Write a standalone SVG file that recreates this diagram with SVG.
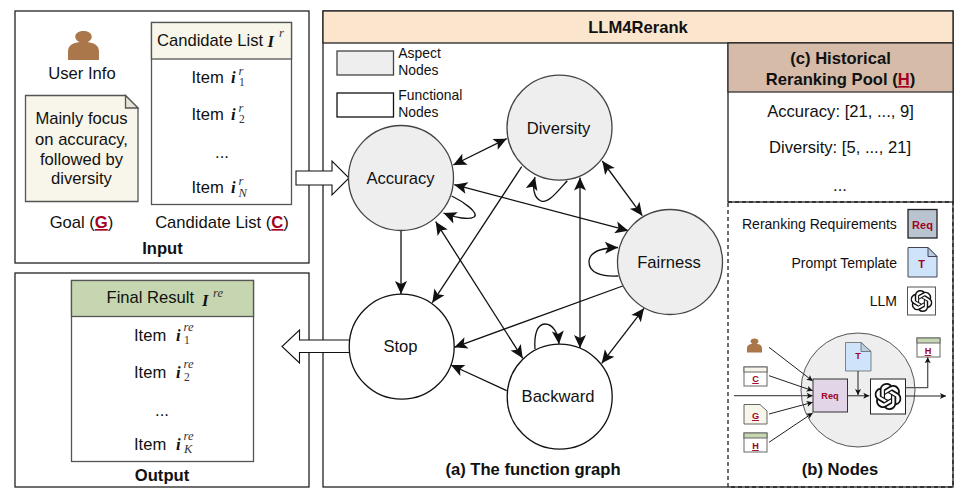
<svg xmlns="http://www.w3.org/2000/svg" width="972" height="496" viewBox="0 0 972 496">
<style>
text{font-family:"Liberation Sans",Arial,sans-serif;font-size:16.6px;fill:#111}
.m{text-anchor:middle}
.e{text-anchor:end}
.b{font-weight:bold}
.r{fill:#a20025;font-weight:bold;text-decoration:underline}
.leg{font-size:13.9px}
.rq{font-size:14px}
.mi{font-family:"Liberation Serif",serif;font-style:italic;font-weight:bold}
.ms{font-family:"Liberation Serif",serif;font-style:italic;font-size:12.5px;fill:#333}
.sb{font-family:"Liberation Serif",serif;font-size:11.5px;fill:#333}
.box{fill:#fff;stroke:#222;stroke-width:1.3}
.gbox{stroke:#555;stroke-width:1.3}
.asp{fill:#eeeeee;stroke:#444;stroke-width:1.3}
.fun{fill:#fff;stroke:#111;stroke-width:1.3}
.c{fill:none;stroke:#111;stroke-width:1.3;marker-end:url(#a)}
.d{marker-start:url(#a)}
.s{fill:none;stroke:#222;stroke-width:1;marker-end:url(#sa)}
.t{font-size:9.2px;font-weight:bold;fill:#a20025;text-anchor:middle}
.u{text-decoration:underline}
.sm{stroke:#666;stroke-width:1}
</style>
<defs>
<marker id="a" markerUnits="userSpaceOnUse" markerWidth="15" markerHeight="15" refX="14" refY="7.5" orient="auto-start-reverse"><path d="M1,1.500 L14,7.500 L1,13.500 L4,7.500 Z" fill="#111"/></marker>
<marker id="sa" markerUnits="userSpaceOnUse" markerWidth="7" markerHeight="7" refX="6.500" refY="3.500" orient="auto-start-reverse"><path d="M0.500,0.500 L6.500,3.500 L0.500,6.500 L2,3.500 Z" fill="#111"/></marker>
<symbol id="gpt" viewBox="0 0 24 24"><path fill="#111" d="M22.2819 9.8211a5.9847 5.9847 0 0 0-.5157-4.9108 6.0462 6.0462 0 0 0-6.5098-2.9A6.0651 6.0651 0 0 0 4.9807 4.1818a5.9847 5.9847 0 0 0-3.9977 2.9 6.0462 6.0462 0 0 0 .7427 7.0966 5.98 5.98 0 0 0 .511 4.9107 6.051 6.051 0 0 0 6.5146 2.9001A5.9847 5.9847 0 0 0 13.2599 24a6.0557 6.0557 0 0 0 5.7718-4.2058 5.9894 5.9894 0 0 0 3.9977-2.9001 6.0557 6.0557 0 0 0-.7475-7.0729zm-9.022 12.6081a4.4755 4.4755 0 0 1-2.8764-1.0408l.1419-.0804 4.7783-2.7582a.7948.7948 0 0 0 .3927-.6813v-6.7369l2.02 1.1686a.071.071 0 0 1 .038.052v5.5826a4.504 4.504 0 0 1-4.4945 4.4944zm-9.6607-4.1254a4.4708 4.4708 0 0 1-.5346-3.0137l.142.0852 4.783 2.7582a.7712.7712 0 0 0 .7806 0l5.8428-3.3685v2.3324a.0804.0804 0 0 1-.0332.0615L9.74 19.9502a4.4992 4.4992 0 0 1-6.1408-1.6464zM2.3408 7.8956a4.485 4.485 0 0 1 2.3655-1.9728V11.6a.7664.7664 0 0 0 .3879.6765l5.8144 3.3543-2.0201 1.1685a.0757.0757 0 0 1-.071 0l-4.8303-2.7865A4.504 4.504 0 0 1 2.3408 7.872zm16.5963 3.8558L13.1038 8.364 15.1192 7.2a.0757.0757 0 0 1 .071 0l4.8303 2.7913a4.4944 4.4944 0 0 1-.6765 8.1042v-5.6772a.79.79 0 0 0-.407-.667zm2.0107-3.0231l-.142-.0852-4.7735-2.7818a.7759.7759 0 0 0-.7854 0L9.409 9.2297V6.8974a.0662.0662 0 0 1 .0284-.0615l4.8303-2.7866a4.4992 4.4992 0 0 1 6.6802 4.66zM8.3065 12.863l-2.02-1.1638a.0804.0804 0 0 1-.038-.0567V6.0742a4.4992 4.4992 0 0 1 7.3757-3.4537l-.142.0805L8.704 5.459a.7948.7948 0 0 0-.3927.6813zm1.0976-2.3654l2.602-1.4998 2.6069 1.4998v2.9994l-2.5974 1.4997-2.6067-1.4997Z"/></symbol>
<symbol id="person" viewBox="0 0 32 30"><path fill="#a9774a" d="M16 0C10.500 0 7.500 2.500 7.500 6 7.500 8.500 9.500 10.500 12 11.500 5 12.500 0 15 0 21V30H32V21C32 15 27 12.500 20 11.500 22.500 10.500 24.500 8.500 24.500 6 24.500 2.500 21.500 0 16 0Z"/></symbol>
</defs>

<g id="input">
<rect class="box" x="15" y="11" width="294" height="252"/>
<use href="#person" x="67.500" y="31" width="32" height="29"/>
<text class="m" x="82" y="78.500">User Info</text>
<text class="m" x="81.500" y="228">Goal (<tspan class="r">G</tspan>)</text>
<text class="m" x="222" y="228">Candidate List (<tspan class="r">C</tspan>)</text>
<text class="m b" x="162.500" y="254">Input</text>
</g>

<g id="goal-note">
<path class="gbox" fill="#f8f5ea" d="M25.500,95.500H125.500L138,108V201.500H25.500Z"/>
<path class="gbox" fill="#e6e3d8" d="M125.500,95.500V108H138Z"/>
<text class="m" x="81.500" y="124">Mainly focus</text>
<text class="m" x="81.500" y="144.500">on accuracy,</text>
<text class="m" x="81.500" y="165">followed by</text>
<text class="m" x="81.500" y="184">diversity</text>
</g>

<g id="candidate-list">
<rect class="gbox" fill="#fff" x="151.500" y="22.500" width="140" height="182"/>
<rect class="gbox" fill="#f8f5ea" x="151.500" y="22.500" width="140" height="36.500"/>
<text x="157" y="46">Candidate List</text>
<text class="mi" x="267.500" y="46.500" font-size="22">I</text><text class="ms" x="279" y="36.500">r</text>
<text x="191.500" y="83">Item</text>
<text class="mi" x="231" y="83" font-size="19">i</text><text class="ms" x="238.500" y="74.500">r</text><text class="sb" x="239" y="86">1</text>
<text x="191.500" y="120">Item</text>
<text class="mi" x="231" y="120" font-size="19">i</text><text class="ms" x="238.500" y="111.500">r</text><text class="sb" x="239" y="123">2</text>
<text class="m" x="222" y="158">...</text>
<text x="191.500" y="193">Item</text>
<text class="mi" x="231" y="193" font-size="19">i</text><text class="ms" x="238.500" y="184.500">r</text><text class="ms" x="238.500" y="197">N</text>
</g>

<g id="output">
<rect class="box" x="15" y="273" width="294" height="214"/>
<rect class="gbox" fill="#fff" x="71.500" y="280.500" width="182" height="181"/>
<rect class="gbox" fill="#c5d6b0" x="71.500" y="280.500" width="182" height="36"/>
<text x="106.500" y="302.500">Final Result</text>
<text class="mi" x="202" y="306" font-size="22">I</text><text class="ms" x="213" y="297">re</text>
<text x="134" y="341">Item</text>
<text class="mi" x="176" y="341" font-size="19">i</text><text class="ms" x="183.500" y="331">re</text><text class="sb" x="184" y="344">1</text>
<text x="134" y="378">Item</text>
<text class="mi" x="176" y="378" font-size="19">i</text><text class="ms" x="183.500" y="368">re</text><text class="sb" x="184" y="381">2</text>
<text class="m" x="162" y="416">...</text>
<text x="134" y="450">Item</text>
<text class="mi" x="176" y="450" font-size="19">i</text><text class="ms" x="183.500" y="440">re</text><text class="ms" x="184" y="453">K</text>
<text class="m b" x="162" y="481">Output</text>
</g>

<g id="main">
<rect class="box" x="323" y="11" width="630" height="476"/>
<rect x="323" y="11" width="630" height="32" fill="#fbe5cd" stroke="#222" stroke-width="1.300"/>
<text class="m b" x="638" y="33">LLM4Rerank</text>
<text class="m b" x="533" y="475">(a) The function graph</text>
</g>

<g id="legend">
<rect class="asp" x="337" y="51" width="56.500" height="24"/>
<rect class="fun" x="337" y="93" width="56.500" height="24"/>
<text class="leg" x="398.300" y="57.500">Aspect</text>
<text class="leg" x="398.300" y="74.500">Nodes</text>
<text class="leg" x="398.300" y="99.500">Functional</text>
<text class="leg" x="398.300" y="116.500">Nodes</text>
</g>

<g id="pool">
<rect x="728" y="43" width="225" height="159" fill="#fff" stroke="#222" stroke-width="1.300"/>
<rect x="728" y="43" width="225" height="49" fill="#d5bba8" stroke="#333" stroke-width="1.300"/>
<text class="m b" x="840.500" y="64">(c) Historical</text>
<text class="m b" x="840.500" y="85">Reranking Pool (<tspan class="r">H</tspan>)</text>
<text class="m" x="840.500" y="117">Accuracy: [21, ..., 9]</text>
<text class="m" x="840" y="153">Diversity: [5, ..., 21]</text>
<text class="m" x="840" y="191">...</text>
</g>

<g id="connectors">
<path fill="#fff" stroke="#111" stroke-width="1.100" d="M296,171H332V161L349,178L332,195V185H296Z"/>
<path fill="#fff" stroke="#111" stroke-width="1.100" d="M349,340H299.500V330L282,346.500L299.500,363V352.500H349"/>
<path class="c d" d="M453.300,165L506.700,138.700"/>
<path class="c d" d="M454.300,184.700L628.300,230.700"/>
<path class="c" d="M451.700,196C462,201 480,213 474,217C469,220 456,218 443.500,213"/>
<path class="c" d="M401,230V294"/>
<path class="c" d="M521.700,166.700L432.300,302.700"/>
<path class="c" d="M567.300,180.700C557,192 548,204 541,201C534,198 532,188 535,177"/>
<path class="c d" d="M580,177.500V348"/>
<path class="c d" d="M602.300,161L642.300,215.700"/>
<path class="c" d="M618.300,276C600,277 589,272 589,262C589,252 600,248 618,247.500"/>
<path class="c" d="M622.700,286L454.300,347.300"/>
<path class="c d" d="M644,308.300L601.700,363.300"/>
<path class="c" d="M506.700,390.700L451,365"/>
<path class="c d" d="M522.700,358.300L435.700,221.700"/>
<path class="c" d="M535,349C534,335 537,324 545,324C553,324 558,333 559,344"/>
</g>

<g id="accuracy"><circle class="asp" cx="401" cy="178" r="52.500"/><text class="m" x="400.500" y="184">Accuracy</text></g>
<g id="diversity"><circle class="asp" cx="559.500" cy="127.700" r="52.500"/><text class="m" x="558.500" y="134">Diversity</text></g>
<g id="fairness"><circle class="asp" cx="670" cy="262" r="52.500"/><text class="m" x="669" y="268">Fairness</text></g>
<g id="stop"><circle class="fun" cx="401.700" cy="346.700" r="52.500"/><text class="m" x="400.500" y="352">Stop</text></g>
<g id="backward"><circle class="fun" cx="559.700" cy="396.700" r="52.500"/><text class="m" x="558" y="402">Backward</text></g>

<g id="nodes-panel">
<rect x="728" y="202" width="225" height="285" fill="none" stroke="#222" stroke-width="1.300" stroke-dasharray="4 3"/>
<text class="rq" x="742" y="229">Reranking Requirements</text>
<text class="rq e" x="897" y="268">Prompt Template</text>
<text class="rq e" x="897" y="306">LLM</text>
<text class="m b" x="840" y="475">(b) Nodes</text>
</g>

<g id="legend-req"><rect x="908" y="209.500" width="29" height="28.500" fill="#b9c4d0" stroke="#222" stroke-width="1.300"/><text class="t" x="922.500" y="229" style="font-size:11px">Req</text></g>
<g id="legend-t"><path d="M908,247.500H928L937,256.500V277H908Z" fill="#cfe4fb" stroke="#445" stroke-width="1"/><path d="M928,247.500V256.500H937Z" fill="#b9cde0" stroke="#445" stroke-width="1"/><text class="t" x="921.500" y="268" style="font-size:11px">T</text></g>
<g id="legend-llm"><rect x="907.500" y="287" width="28" height="28" fill="#fff" stroke="#555"/><use href="#gpt" x="910.500" y="290" width="22" height="22"/></g>

<g id="node-detail">
<circle cx="858" cy="390" r="57" fill="#eeeeee" stroke="#555" stroke-width="1"/>
<rect x="813" y="379" width="34.500" height="33" fill="#e1d5e7" stroke="#333" stroke-width="1"/>
<text class="t" x="830" y="399">Req</text>
<path d="M845.500,342.500H861L871,351.500V371H845.500Z" fill="#cfe4fb" stroke="#666" stroke-width="0.800"/>
<path d="M861,342.500V351.500H871Z" fill="#b9cde0" stroke="#666" stroke-width="0.800"/>
<text class="t" x="858" y="359">T</text>
<rect x="870.500" y="379" width="35" height="35" fill="#fff" stroke="#222" stroke-width="1"/>
<use href="#gpt" x="874.500" y="383" width="27" height="27"/>
<use href="#person" x="747" y="338" width="15" height="15"/>
<rect class="sm" x="744" y="367" width="23" height="19" fill="#fff"/><rect class="sm" x="744" y="367" width="23" height="5" fill="#f8f5ea"/><text class="t u" x="755.500" y="382">C</text>
<path class="sm" d="M744,404.500H760L767,411V424H744Z" fill="#f8f5ea"/><text class="t u" x="755.500" y="419">G</text>
<rect class="sm" x="744" y="433" width="23" height="19" fill="#fff"/><rect class="sm" x="744" y="433" width="23" height="5" fill="#c5d6b0"/><text class="t u" x="755.500" y="449">H</text>
<rect class="sm" x="917" y="338" width="23" height="19" fill="#fff"/><rect class="sm" x="917" y="338" width="23" height="5" fill="#c5d6b0"/><text class="t u" x="928" y="354">H</text>
</g>
<g id="node-detail-connectors">
<path class="s" d="M769,347.300L812.700,381"/>
<path class="s" d="M769,375.700L812.700,390.700"/>
<path class="s" style="stroke:#555;stroke-width:1.300" d="M734,395.700H812.700"/>
<path class="s" d="M769,414L812.700,402.300"/>
<path class="s" d="M769,442.300L812.700,413"/>
<path class="s" style="stroke:#555;stroke-width:1.300" d="M847.700,395.700H869.300"/>
<path class="s" d="M858,371V395"/>
<path class="s" style="stroke:#555;stroke-width:1.300" d="M905.300,387.700H927.700V357.300"/>
<path class="s" d="M905.300,396H946"/>
</g>
</svg>
